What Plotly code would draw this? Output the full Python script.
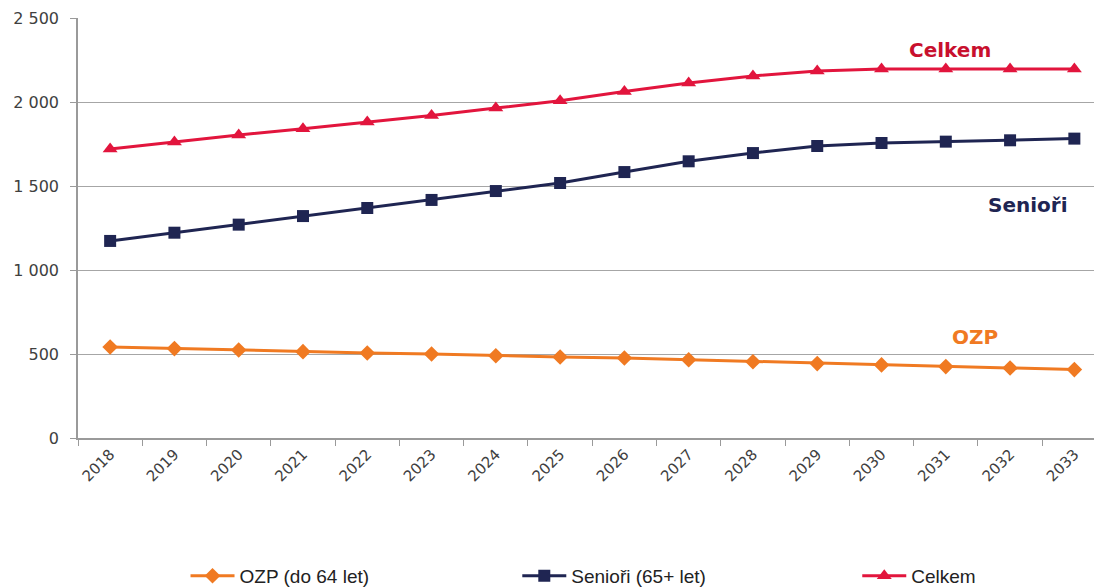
import plotly.graph_objects as go

years = [str(y) for y in range(2018, 2034)]
ozp = [542, 532, 524, 514, 506, 500, 490, 482, 476, 466, 454, 443, 435, 425, 417, 407]
seniori = [1173, 1222, 1270, 1321, 1369, 1417, 1470, 1518, 1583, 1647, 1696, 1738, 1756, 1764, 1772, 1782]
celkem = [1720, 1762, 1804, 1841, 1881, 1919, 1964, 2008, 2062, 2113, 2155, 2185, 2196, 2196, 2196, 2196]

orange = '#F07A22'
navy = '#1F2552'
red = '#E2153D'

fig = go.Figure()
fig.add_trace(go.Scatter(x=years, y=ozp, name='OZP (do 64 let)', mode='lines+markers',
                         line=dict(color=orange, width=3), legend='legend',
                         marker=dict(symbol='diamond', size=12, color=orange)))
fig.add_trace(go.Scatter(x=years, y=seniori, name='Senioři (65+ let)', mode='lines+markers',
                         line=dict(color=navy, width=3), legend='legend2',
                         marker=dict(symbol='square', size=12, color=navy)))
fig.add_trace(go.Scatter(x=years, y=celkem, name='Celkem', mode='lines+markers',
                         line=dict(color=red, width=3), legend='legend3',
                         marker=dict(symbol='triangle-up', size=13, color=red)))

# labels next to the lines
fig.add_annotation(x=0.852, y=2310, xref='paper', yref='y', text='<b>Celkem</b>', xanchor='center',
                   showarrow=False, font=dict(color='#C8102E', size=20))
fig.add_annotation(x=0.928, y=1387, xref='paper', yref='y', text='<b>Senioři</b>', xanchor='center',
                   showarrow=False, font=dict(color=navy, size=20))
fig.add_annotation(x=0.876, y=601, xref='paper', yref='y', text='<b>OZP</b>', xanchor='center',
                   showarrow=False, font=dict(color=orange, size=20))

legend_font = dict(family='Liberation Sans', size=19, color='#222222')

fig.update_layout(
    width=1094, height=580,
    margin=dict(l=70, r=0, t=10, b=150, autoexpand=False),
    paper_bgcolor='white',
    plot_bgcolor='white',
    separators=', ',
    font=dict(family='DejaVu Sans', size=15, color='#404040'),
    showlegend=True,
    legend=dict(orientation='h', x=0.105, y=-0.283, xanchor='left', yanchor='top',
                itemwidth=44, font=legend_font),
    legend2=dict(orientation='h', x=0.429, y=-0.283, xanchor='left', yanchor='top',
                 itemwidth=44, font=legend_font),
    legend3=dict(orientation='h', x=0.761, y=-0.283, xanchor='left', yanchor='top',
                 itemwidth=44, font=legend_font),
)
fig.update_xaxes(type='category', showgrid=False, showline=True, linecolor='#9A9A9A',
                 linewidth=1.5, ticks='outside', tickson='boundaries', ticklen=6,
                 tickcolor='#9A9A9A', tickangle=-45, range=[-0.5, 15.43], automargin=False)
fig.update_yaxes(range=[0, 2500], dtick=500, tickformat=',d', showgrid=True,
                 gridcolor='#A6A6A6', gridwidth=1.2, showline=True, linecolor='#9A9A9A',
                 linewidth=1.5, ticks='outside', ticklen=6, tickcolor='#9A9A9A',
                 ticklabelstandoff=8, zeroline=False, tickfont=dict(size=16), automargin=False)

fig.write_html("out.html")
